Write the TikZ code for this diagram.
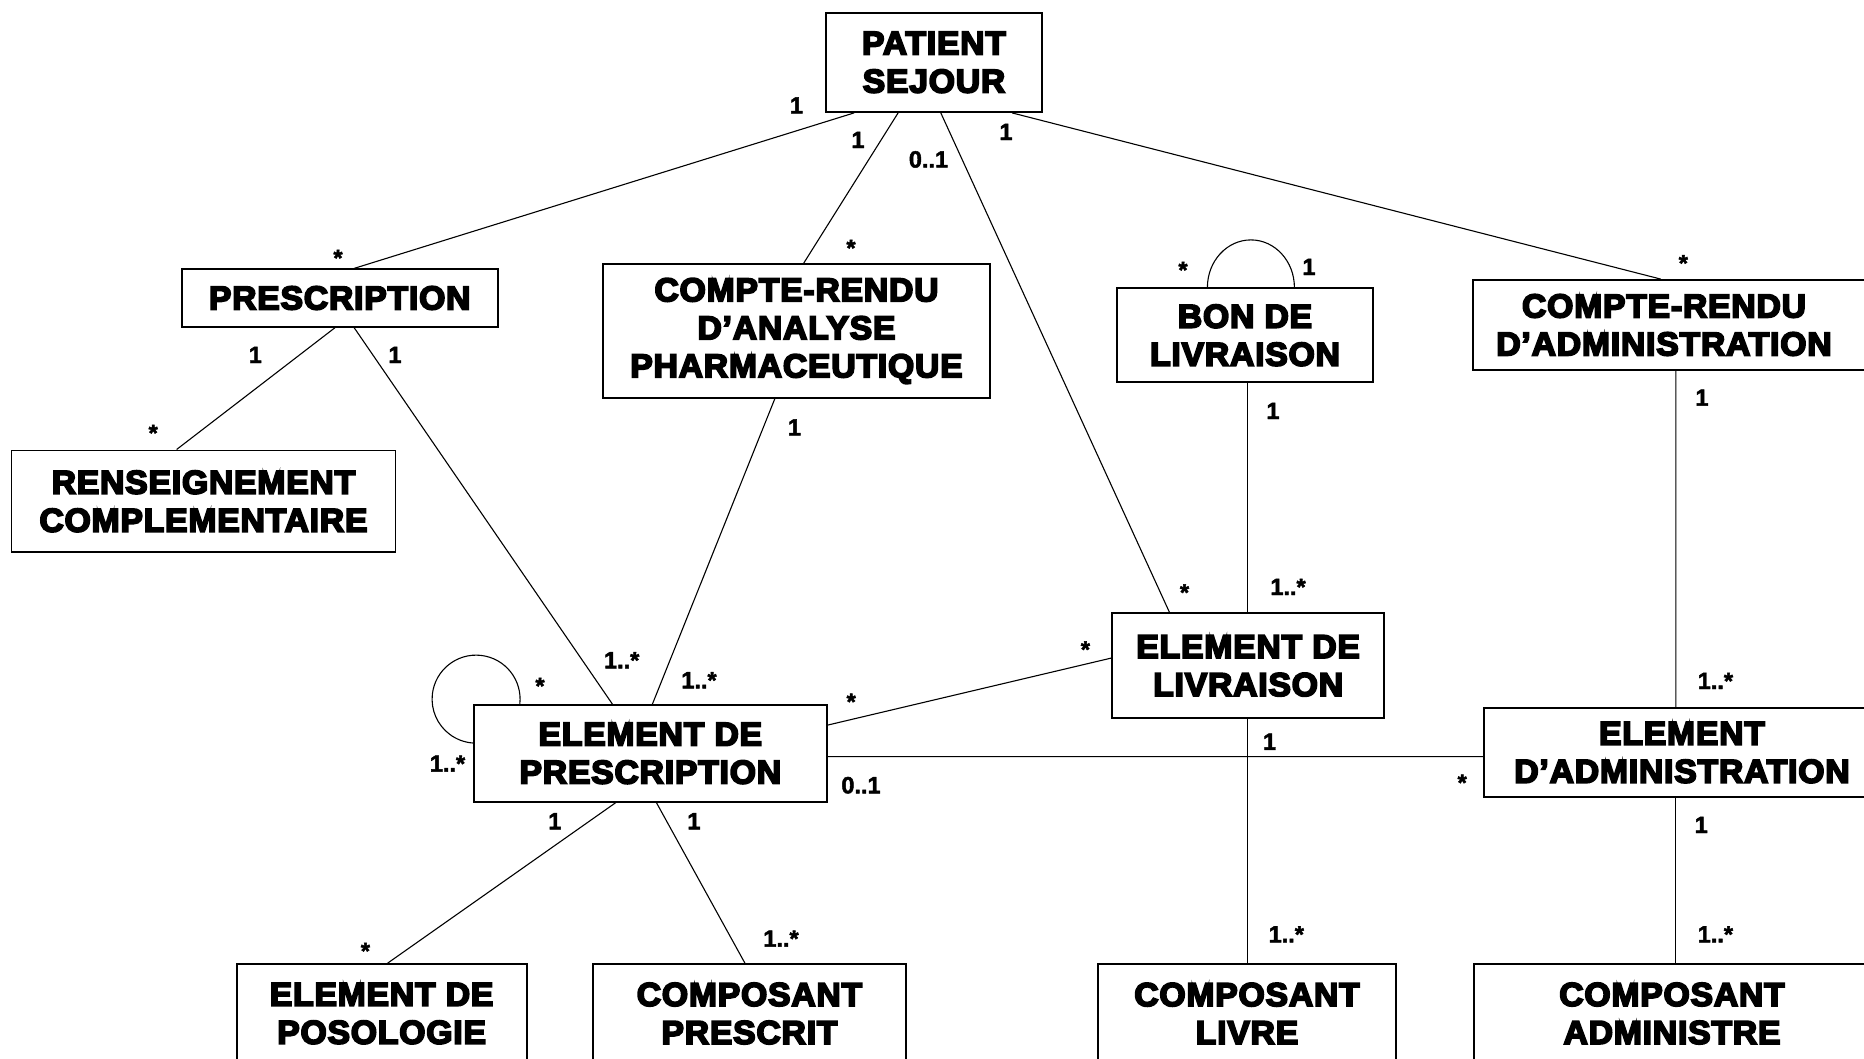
\documentclass[tikz,border=0pt]{standalone}
\usepackage{fontspec}
\newfontfamily\boxfont{Liberation Sans}[UprightFont={* Bold},FakeBold=5.5,FakeStretch=1.02,LetterSpace=2.5]
\newfontfamily\lblfont{Liberation Sans}[UprightFont={* Bold},FakeBold=2]
\begin{document}
\begin{tikzpicture}[x=1pt,y=-1pt,
  box/.style={draw,line width=1.8pt,inner sep=0pt,align=center,
    font={\boxfont\fontsize{33}{38}\selectfont}},
  boxtext/.style={inner sep=0pt,align=center,font={\boxfont\fontsize{33}{38}\selectfont}},
  conn/.style={line width=1.1pt},
  lbl/.style={inner sep=0pt,anchor=base,font={\lblfont\fontsize{23.5}{26}\selectfont}}]
\useasboundingbox (0,0) rectangle (1864,1058);
\fill[white] (0,0) rectangle (1864,1058);
\clip (0,0) rectangle (1864,1058);

% boxes
\node[box,minimum width=216pt,minimum height=99.3pt] (patient) at (934,62.35) {PATIENT\\SEJOUR};
\node[box,minimum width=316pt,minimum height=57.4pt] (presc) at (339.7,298) {PRESCRIPTION};
\node[box,minimum width=387.7pt,minimum height=134pt] (cra) at (796.5,331) {COMPTE-RENDU\\D’ANALYSE\\PHARMACEUTIQUE};
\node[box,minimum width=256.6pt,minimum height=94pt] (bon) at (1245,335.3) {BON DE\\LIVRAISON};
\node[box,minimum width=427.3pt,minimum height=90pt] (cradm) at (1686.35,325) {};
\node[boxtext] (cradmt) at (1664,325) {COMPTE-RENDU\\D’ADMINISTRATION};
\node[box,minimum width=384pt,minimum height=101.8pt] (rens) at (203.5,501.3) {RENSEIGNEMENT\\COMPLEMENTAIRE};
\node[box,minimum width=352.7pt,minimum height=96.7pt] (ep) at (650.35,753.35) {ELEMENT DE\\PRESCRIPTION};
\node[box,minimum width=272.3pt,minimum height=105pt] (el) at (1248.15,665.8) {ELEMENT DE\\LIVRAISON};
\node[box,minimum width=416pt,minimum height=89pt] (ea) at (1692,752.5) {};
\node[boxtext] (eat) at (1682,752.5) {ELEMENT\\D’ADMINISTRATION};
\node[box,minimum width=290pt,minimum height=99pt] (epos) at (381.6,1013.5) {ELEMENT DE\\POSOLOGIE};
\node[box,minimum width=312.6pt,minimum height=99pt] (cp) at (749.5,1013.5) {COMPOSANT\\PRESCRIT};
\node[box,minimum width=298pt,minimum height=99pt] (cl) at (1247,1013.5) {COMPOSANT\\LIVRE};
\node[box,minimum width=426pt,minimum height=99pt] (ca) at (1687,1013.5) {};
\node[boxtext] (cat) at (1672,1013.5) {COMPOSANT\\ADMINISTRE};

% connectors
\draw[conn] ([xshift=29pt]patient.south west) -- ([xshift=173.3pt]presc.north west);
\draw[conn] ([xshift=73pt]patient.south west) -- ([xshift=202pt]cra.north west);
\draw[conn] ([xshift=115.7pt]patient.south west) -- ([xshift=58.4pt]el.north west);
\draw[conn] ([xshift=187pt]patient.south west) -- ([xshift=189pt]cradm.north west);
\draw[conn] ([xshift=154.3pt]presc.south west) -- ([xshift=166pt]rens.north west);
\draw[conn] ([xshift=173.3pt]presc.south west) -- ([xshift=139.3pt]ep.north west);
\draw[conn] ([xshift=173pt]cra.south west) -- ([xshift=179.3pt]ep.north west);
\draw[conn] ([xshift=131.8pt]bon.south west) -- ([xshift=136.5pt]el.north west);
\draw[conn] ([xshift=204pt]cradm.south west) -- ([xshift=192.7pt]ea.north west);
\draw[conn] ([yshift=-21pt]ep.north east) -- ([yshift=-45.7pt]el.north west);
\draw[conn] ([yshift=-52.5pt]ep.north east) -- ([yshift=-49.5pt]ea.north west);
\draw[conn] ([xshift=136.5pt]el.south west) -- ([xshift=150.5pt]cl.north west);
\draw[conn] ([xshift=192.7pt]ea.south west) -- ([xshift=202.7pt]ca.north west);
\draw[conn] ([xshift=142.7pt]ep.south west) -- ([xshift=152pt]epos.north west);
\draw[conn] ([xshift=183.3pt]ep.south west) -- ([xshift=152.6pt]cp.north west);
% self loops
\draw[conn] ([xshift=46.7pt]ep.north west) arc[start angle=6.5,end angle=-266,radius=44];
\draw[conn] ([xshift=91.6pt]bon.north west) arc[start angle=180,end angle=360,x radius=43.5,y radius=47.5];

% multiplicities
\node[lbl] (m1) at (796.5,113.5) {1};
\node[lbl] (m2) at (858,148) {1};
\node[lbl] (m3) at (851,256) {*};
\node[lbl] (m4) at (928.5,167.5) {0..1};
\node[lbl] (m5) at (1006,140) {1};
\node[lbl] (m6) at (1683.3,271.2) {*};
\node[lbl] (m7) at (338,266) {*};
\node[lbl] (m8) at (255.3,363) {1};
\node[lbl] (m9) at (395,363) {1};
\node[lbl] (m10) at (153.2,441) {*};
\node[lbl] (m11) at (794.5,435.5) {1};
\node[lbl] (m12) at (1183,278) {*};
\node[lbl] (m13) at (1309,275) {1};
\node[lbl] (m14) at (1273,419) {1};
\node[lbl] (m15) at (1288,595) {1..*};
\node[lbl] (m16) at (1184.5,600.5) {*};
\node[lbl] (m17) at (1702,405.7) {1};
\node[lbl] (m18) at (1715.4,689) {1..*};
\node[lbl] (m19) at (540,694) {*};
\node[lbl] (m20) at (447.5,771.7) {1..*};
\node[lbl] (m21) at (621.7,668.3) {1..*};
\node[lbl] (m22) at (699,688.3) {1..*};
\node[lbl] (m23) at (851.2,709.8) {*};
\node[lbl] (m24) at (1085.4,657.5) {*};
\node[lbl] (m25) at (861,793.3) {0..1};
\node[lbl] (m26) at (1269.6,749.8) {1};
\node[lbl] (m27) at (1462.2,790.7) {*};
\node[lbl] (m28) at (1701.2,833) {1};
\node[lbl] (m29) at (554.8,829.3) {1};
\node[lbl] (m30) at (693.9,829.3) {1};
\node[lbl] (m31) at (365.4,959) {*};
\node[lbl] (m32) at (781,946.7) {1..*};
\node[lbl] (m33) at (1286.3,942.4) {1..*};
\node[lbl] (m34) at (1715.4,942.4) {1..*};
\end{tikzpicture}
\end{document}
